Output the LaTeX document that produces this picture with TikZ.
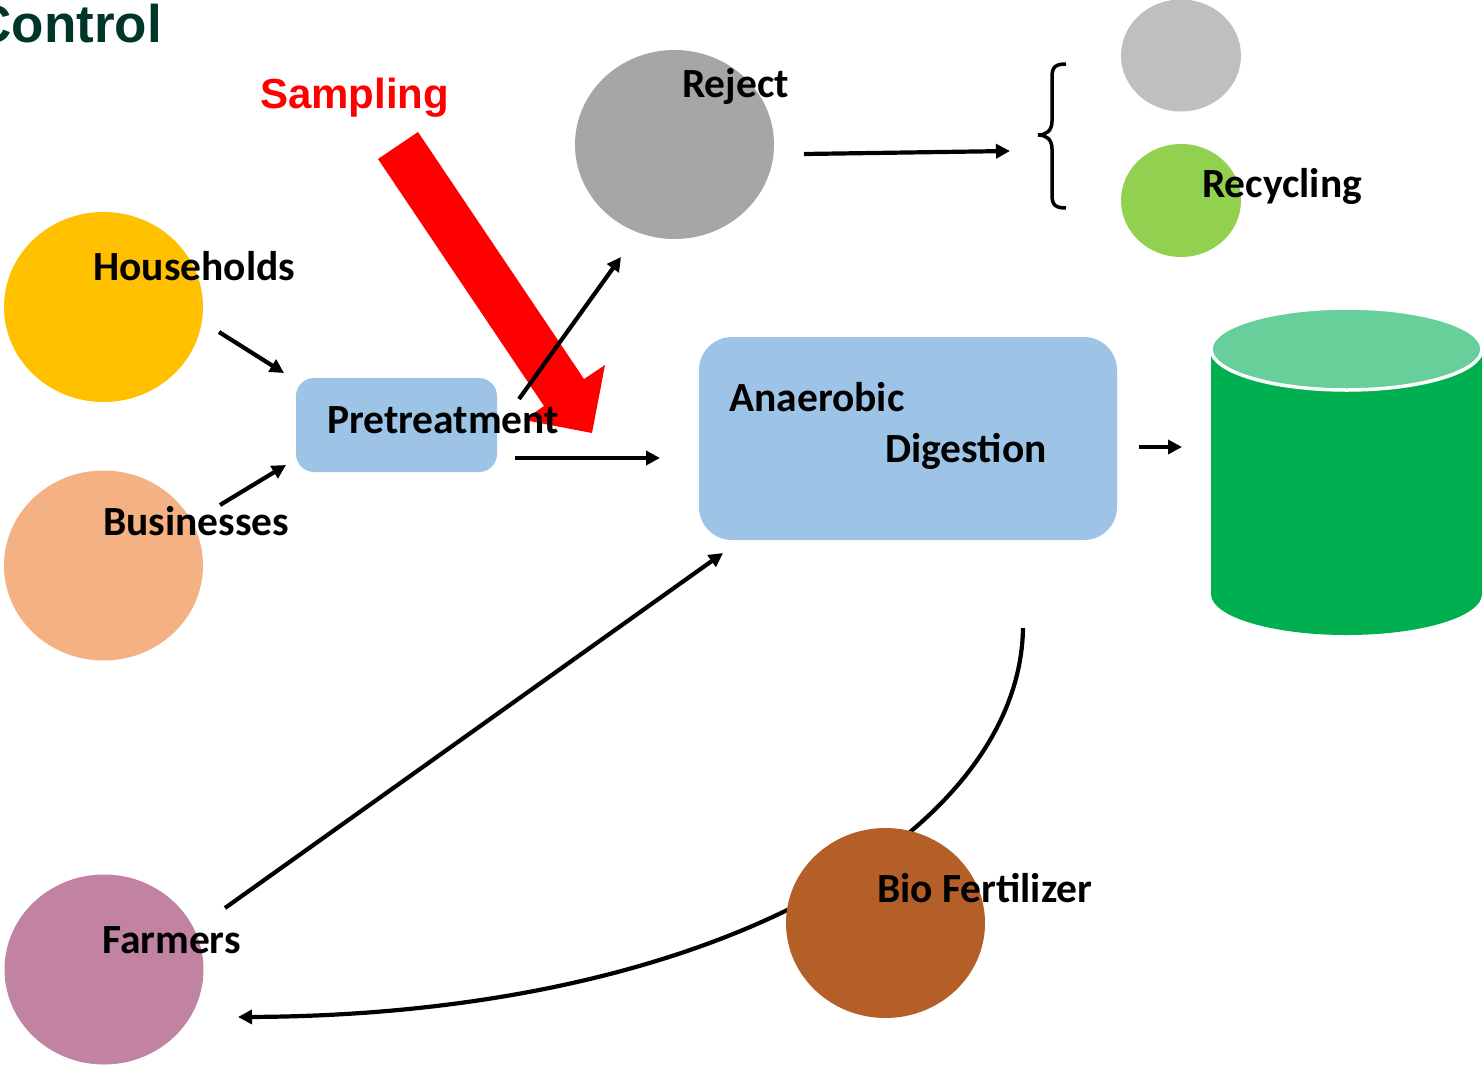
\documentclass[tikz,border=0pt]{standalone}
\usepackage{fontspec}
\setmainfont{Carlito}
\newfontfamily\arialfont{Liberation Sans}
\usetikzlibrary{shapes.geometric,arrows.meta}
\definecolor{cyellow}{HTML}{FFC000}
\definecolor{cpeach}{HTML}{F4B183}
\definecolor{cmauve}{HTML}{C283A3}
\definecolor{cbrown}{HTML}{B45F27}
\definecolor{cgrayA}{HTML}{A6A6A6}
\definecolor{cgrayB}{HTML}{BFBFBF}
\definecolor{clime}{HTML}{92D050}
\definecolor{cblue}{HTML}{9DC3E6}
\definecolor{ccyl}{HTML}{00AF50}
\definecolor{ccyltop}{HTML}{67D09A}
\definecolor{ctitle}{HTML}{00352A}
\begin{document}
\begin{tikzpicture}[x=1pt,y=-1pt,
  blob/.style={ellipse, inner sep=0pt, draw=none, minimum width=199pt, minimum height=190pt},
  smallblob/.style={ellipse, inner sep=0pt, draw=none, minimum width=120pt, minimum height=112pt},
  lbl/.style={font=\fontsize{41.5}{50}\selectfont\bfseries, text=black, inner sep=0pt, anchor=base west},
  procbox/.style={draw=none, fill=cblue, inner sep=0pt},
  arr/.style={line width=4.2pt, -{Triangle[length=14pt,width=14pt]}}
]
\useasboundingbox (0,0) rectangle (1483,1071);

% curve behind bio fertilizer circle
\coordinate (cS) at (1023,628);
\coordinate (cE) at (238,1017);
\draw[arr] (cS) .. controls (1020,830) and (720,1015) .. (cE);

% circles
\node[blob, fill=cyellow] (hh) at (103.5,307) {};
\node[blob, fill=cpeach] (bus) at (103.5,565.5) {};
\node[blob, fill=cmauve] (farm) at (104,969.5) {};
\node[blob, fill=cbrown] (bio) at (885.5,923) {};
\node[blob, fill=cgrayA, minimum height=189pt] (rej) at (674.5,144.5) {};
\node[smallblob, fill=cgrayB] (g1) at (1181,55.5) {};
\node[smallblob, fill=clime, minimum height=113pt] (g2) at (1181,200.5) {};

% boxes
\node[procbox, rounded corners=18pt, minimum width=201pt, minimum height=94pt] (pre) at (396.5,425) {};
\node[procbox, rounded corners=33pt, minimum width=418pt, minimum height=203pt] (ad) at (908,438.5) {};

% cylinder
\coordinate (cyl) at (1346.5,349);
\fill[ccyl] (1211,349) rectangle (1482,594);
\fill[ccyl] (1346.5,594) ellipse [x radius=135.5, y radius=41];
\filldraw[fill=ccyltop, draw=white, line width=3.5pt] (cyl) ellipse [x radius=135.5, y radius=41];

% red sampling arrow
\fill[red] (378,159) -- (418,132) -- (584,379) -- (605,365) -- (592,433) -- (524,420) -- (544,406) -- cycle;

% brace
\draw[line width=3.5pt] (1066,64) .. controls (1052,64) and (1052,70) .. (1052,80) -- (1052,121)
  .. controls (1052,131) and (1046,135) .. (1038,135)
  .. controls (1046,135) and (1052,139) .. (1052,149) -- (1052,192)
  .. controls (1052,202) and (1052,208) .. (1066,208);

% connector end points
\coordinate (a1s) at (219,332);  \coordinate (a1e) at (284,373);
\coordinate (a2s) at (220,505);  \coordinate (a2e) at (286,465);
\coordinate (a3s) at (515,458);  \coordinate (a3e) at (660,458);
\coordinate (a4s) at (519,399);  \coordinate (a4e) at (621,257);
\coordinate (a5s) at (804,154);  \coordinate (a5e) at (1010,151);
\coordinate (a6s) at (1139,447); \coordinate (a6e) at (1182,447);
\coordinate (a7s) at (225,908);  \coordinate (a7e) at (723,553);

\draw[arr] (a1s) -- (a1e);
\draw[arr] (a2s) -- (a2e);
\draw[arr] (a3s) -- (a3e);
\draw[arr] (a4s) -- (a4e);
\draw[arr] (a5s) -- (a5e);
\draw[arr] (a6s) -- (a6e);
\draw[arr] (a7s) -- (a7e);

% texts
\node[lbl] (thh) at (93,280) {Households};
\node[lbl] (tbus) at (103,535) {Businesses};
\node[lbl] (tfarm) at (102,953) {Farmers};
\node[lbl] (tbio) at (877,902) {Bio Fertilizer};
\node[lbl] (trej) at (682,97) {Reject};
\node[lbl] (trec) at (1202,197) {Recycling};
\node[lbl] (tpre) at (327,433) {Pretreatment};
\node[lbl] (tad1) at (729,411) {Anaerobic};
\node[lbl] (tad2) at (885,462) {Digestion};
\node[font=\arialfont\fontsize{42}{50}\selectfont\bfseries, text=red, inner sep=0pt, anchor=base west] (tsamp) at (260,108) {Sampling};
\node[font=\arialfont\fontsize{53}{60}\selectfont\bfseries, text=ctitle, inner sep=0pt, anchor=base east] (ttitle) at (162,42) {Control};
\end{tikzpicture}
\end{document}
